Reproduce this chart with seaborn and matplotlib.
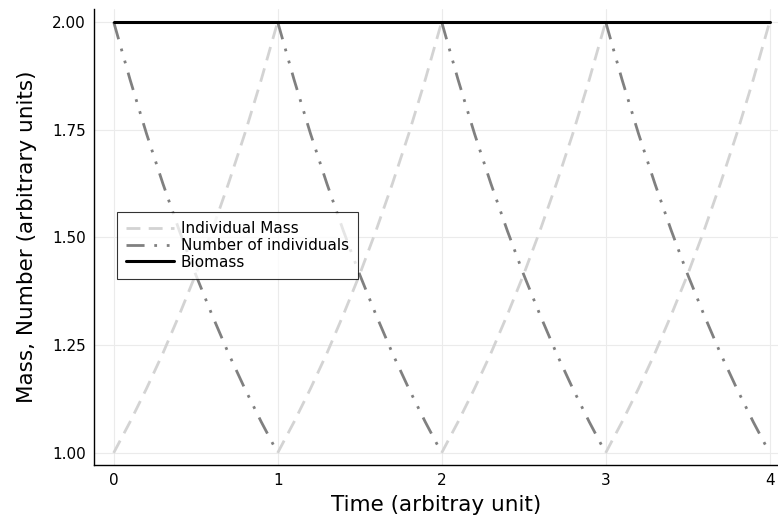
import matplotlib
matplotlib.use("Agg")
import matplotlib.pyplot as plt
import seaborn as sns
import pandas as pd

# values within one period
phase = [0.0, 0.1, 0.2, 0.3, 0.4, 0.5, 0.6, 0.7, 0.8, 0.9, 1.0]
mass = [1.0, 1.072, 1.149, 1.231, 1.320, 1.414, 1.516, 1.625, 1.741, 1.866, 2.0]
number = [2.0, 1.866, 1.741, 1.625, 1.516, 1.414, 1.320, 1.231, 1.149, 1.072, 1.0]
periods = [0, 1, 2, 3]
biomass_t = [0, 4]
biomass = [2.0, 2.0]

xticks = [0, 1, 2, 3, 4]
yticks = [1.00, 1.25, 1.50, 1.75, 2.00]

rows = []
for p in periods:
    for ph, m, n in zip(phase, mass, number):
        rows.append({"t": p + ph, "mass": m, "number": n, "period": p})
df = pd.DataFrame(rows)

sns.set_style("white")
plt.rcParams['font.family'] = ['DejaVu Sans']

fig = plt.figure(figsize=(7.78, 5.20), dpi=100)
ax = fig.add_axes([0.1208, 0.1058, 0.879, 0.877])

for i, p in enumerate(periods):
    seg = df[df["period"] == p]
    sns.lineplot(data=seg, x="t", y="mass", ax=ax, color="#d3d3d3", lw=2,
                 linestyle=(0, (5, 3)), label="Individual Mass" if i == 0 else None,
                 legend=False)
for i, p in enumerate(periods):
    seg = df[df["period"] == p]
    sns.lineplot(data=seg, x="t", y="number", ax=ax, color="#808080", lw=2,
                 linestyle=(0, (6.5, 3.5, 1, 3.5, 1, 3.5)),
                 label="Number of individuals" if i == 0 else None, legend=False)
sns.lineplot(x=biomass_t, y=biomass, ax=ax, color="black", lw=2.2, label="Biomass",
             legend=False)

ax.set_xlim(-0.12, 4.05)
ax.set_ylim(0.972, 2.03)
ax.set_xticks(xticks)
ax.set_xticklabels([str(v) for v in xticks])
ax.set_yticks(yticks)
ax.set_yticklabels([f"{v:.2f}" for v in yticks])
ax.grid(True, color="#ebebeb", lw=0.8)
for s in ["top", "right"]:
    ax.spines[s].set_visible(False)
for s in ["left", "bottom"]:
    ax.spines[s].set_color("black")
    ax.spines[s].set_linewidth(1.0)
ax.tick_params(direction="in", length=4, width=0.8, labelsize=11, color="#333333",
               labelcolor="black", pad=6)
ax.set_xlabel("Time (arbitray unit)", fontsize=15.5, labelpad=5, color="black")
ax.set_ylabel("Mass, Number (arbitrary units)", fontsize=15.5, labelpad=11,
              color="black")

leg = ax.legend(loc="lower left", bbox_to_anchor=(0.034, 0.408), fontsize=11,
                frameon=True, fancybox=False, edgecolor="black", handlelength=3.1,
                borderpad=0.6, labelspacing=0.12, handletextpad=0.45,
                borderaxespad=0, labelcolor="black")
leg.get_frame().set_linewidth(0.8)

fig.savefig("out.png", dpi=100)
